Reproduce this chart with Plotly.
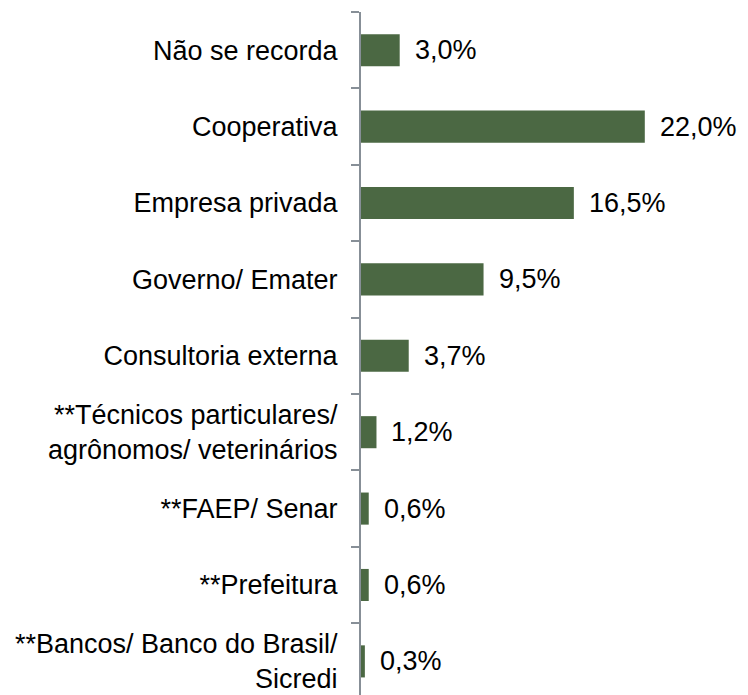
import plotly.graph_objects as go

categories = [
    "Não se recorda",
    "Cooperativa",
    "Empresa privada",
    "Governo/ Emater",
    "Consultoria externa",
    "**Técnicos particulares/<br>agrônomos/ veterinários",
    "**FAEP/ Senar",
    "**Prefeitura",
    "**Bancos/ Banco do Brasil/<br>Sicredi",
]
values = [3.0, 22.0, 16.5, 9.5, 3.7, 1.2, 0.6, 0.6, 0.3]
labels = [f"{v:.1f}".replace(".", ",") + "%" for v in values]

FONT = "Liberation Sans, Arial, sans-serif"
BAR_COLOR = "#4b6843"

fig = go.Figure()
fig.add_trace(go.Bar(
    x=values,
    y=categories,
    orientation="h",
    width=0.42,
    marker=dict(color=BAR_COLOR, line=dict(width=0)),
    hoverinfo="skip",
))

for c, v, t in zip(categories, values, labels):
    fig.add_annotation(
        x=v, y=c, text=t, showarrow=False,
        xanchor="left", yanchor="middle", xshift=13,
        font=dict(family=FONT, size=27, color="#000000"),
    )

fig.update_layout(
    width=740, height=687,
    margin=dict(l=353, r=0, t=4, b=0),
    paper_bgcolor="white", plot_bgcolor="white",
    showlegend=False,
    font=dict(family=FONT, size=27, color="#000000"),
    xaxis=dict(range=[0, 30], visible=False, fixedrange=True),
    yaxis=dict(
        type="category",
        range=[8.44, -0.5],
        showline=True, linecolor="#878f97", linewidth=2,
        ticks="outside", ticklen=8, tickcolor="#878f97", tickwidth=2,
        tickson="boundaries",
        showgrid=False, zeroline=False,
        ticklabelstandoff=16,
        tickfont=dict(family=FONT, size=27, color="#000000"),
    ),
)

fig.write_html("out.html")
